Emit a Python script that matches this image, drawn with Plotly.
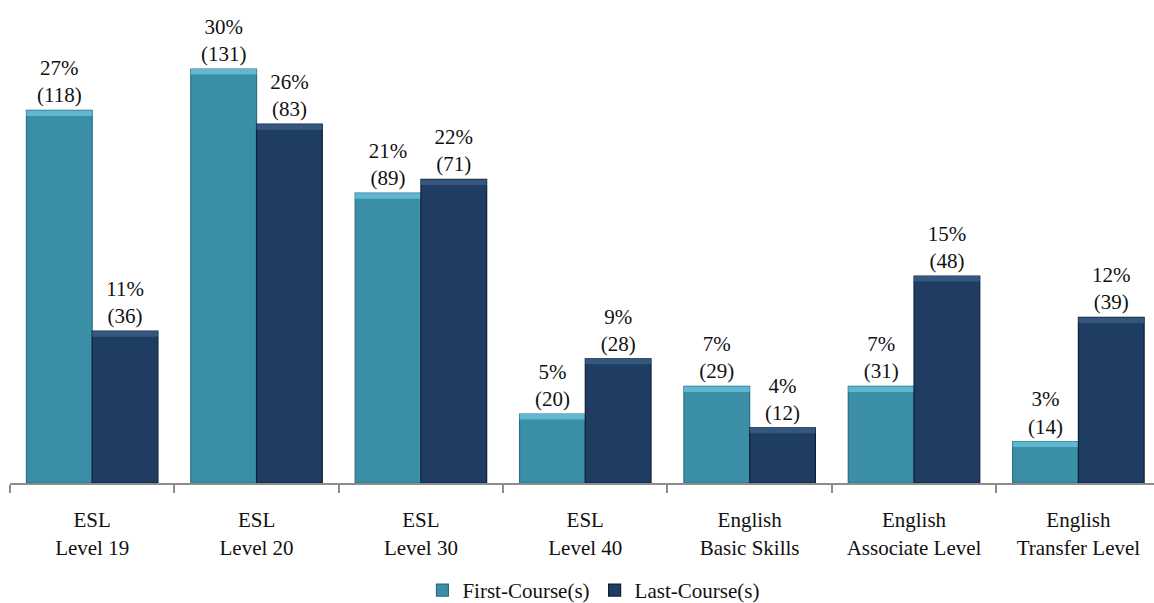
import plotly.graph_objects as go

categories = ["ESL<br>Level 19", "ESL<br>Level 20", "ESL<br>Level 30", "ESL<br>Level 40",
              "English<br>Basic Skills", "English<br>Associate Level", "English<br>Transfer Level"]
first_pct = [27, 30, 21, 5, 7, 7, 3]
first_n = [118, 131, 89, 20, 29, 31, 14]
last_pct = [11, 26, 22, 9, 4, 15, 12]
last_n = [36, 83, 71, 28, 12, 48, 39]

FONT = "Liberation Serif"
TEAL, TEAL_HI, TEAL_EDGE = "#3A8EA6", "#5DB8D0", "#2B6F84"
NAVY, NAVY_HI, NAVY_EDGE = "#1F3D63", "#34577F", "#0F2138"
BEVEL = 0.4  # height of the lighter top strip, in percent units

fig = go.Figure()


def add_series(name, pct, counts, color, hi, edge, group):
    fig.add_trace(go.Bar(
        x=categories, y=pct, name=name, offsetgroup=group,
        marker=dict(color=color, line=dict(color=edge, width=1.2)),
        text=[f"{p}%<br>({n})" for p, n in zip(pct, counts)],
        textposition="outside", cliponaxis=False,
        textfont=dict(family=FONT, size=21, color="#111111"),
    ))
    # lighter strip across the top of each bar for a bevelled look
    fig.add_trace(go.Bar(
        x=categories, y=[BEVEL] * len(pct), base=[p - BEVEL for p in pct],
        offsetgroup=group, showlegend=False, hoverinfo="skip",
        marker=dict(color=hi, line=dict(width=0)),
    ))


add_series("First-Course(s)", first_pct, first_n, TEAL, TEAL_HI, TEAL_EDGE, "first")
add_series("Last-Course(s)", last_pct, last_n, NAVY, NAVY_HI, NAVY_EDGE, "last")

fig.update_layout(
    template="none",
    width=1154, height=603,
    margin=dict(l=10, r=0, t=0, b=120, autoexpand=False),
    paper_bgcolor="white", plot_bgcolor="white",
    barmode="group", bargap=0.2, bargroupgap=0,
    font=dict(family=FONT, size=21, color="#111111"),
    showlegend=True,
    legend=dict(orientation="h", x=0.51, xanchor="center", y=-0.18, yanchor="top",
                font=dict(family=FONT, size=21, color="#111111"), traceorder="normal",
                itemwidth=30, tracegroupgap=0, bgcolor="rgba(0,0,0,0)"),
)
fig.update_xaxes(
    range=[-0.5, 6.46], showline=True, linecolor="#8C8C8C", linewidth=2,
    ticks="outside", tickson="boundaries", ticklen=8, tickcolor="#8C8C8C",
    tickwidth=1.5, ticklabelstandoff=17, showgrid=False, automargin=False,
    zeroline=False, tickfont=dict(family=FONT, size=21, color="#111111"),
)
fig.update_yaxes(range=[0, 35], visible=False, showgrid=False, zeroline=False)

fig.write_html("out.html")
